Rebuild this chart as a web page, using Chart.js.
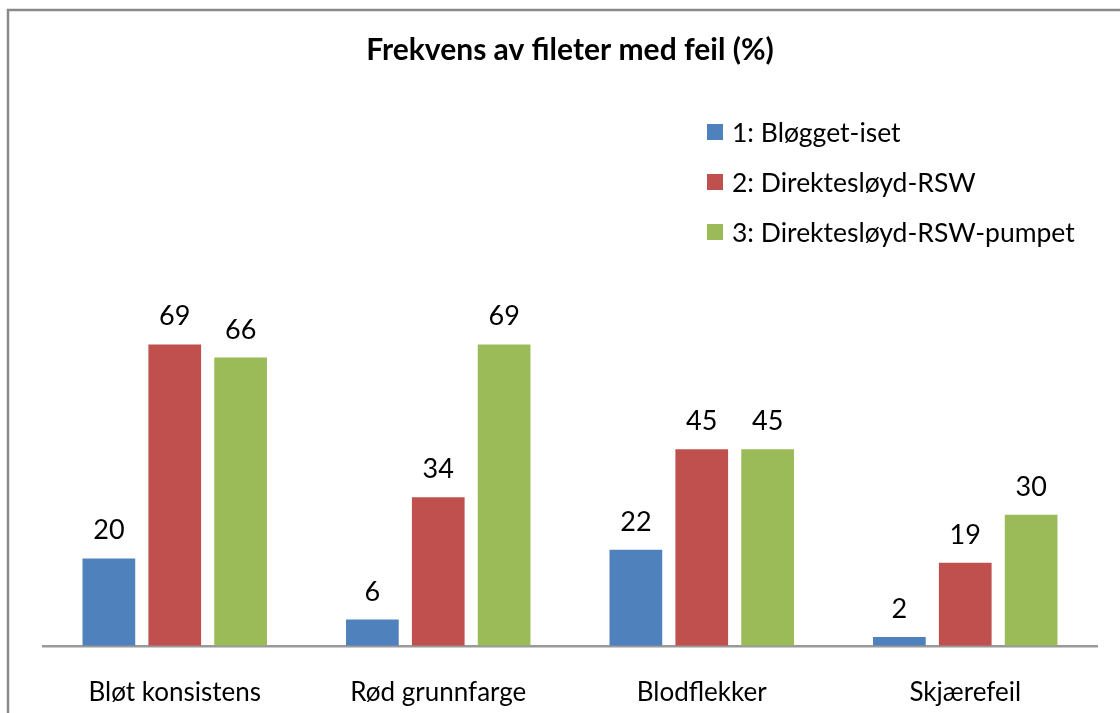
<!DOCTYPE html>
<html>
<head>
<meta charset="utf-8">
<title>Frekvens av fileter med feil</title>
<script src="https://cdn.jsdelivr.net/npm/chart.js@4/dist/chart.umd.min.js"></script>
<style>
  html, body { margin: 0; padding: 0; background: #fff; }
  #wrap { position: relative; width: 1120px; height: 713px; }
</style>
</head>
<body>
<div id="wrap"><canvas id="feilChart"></canvas></div>
<script>
'use strict';

// data
const categories = ["Bløt konsistens", "Rød grunnfarge", "Blodflekker", "Skjærefeil"];
const seriesNames = ["1: Bløgget-iset", "2: Direktesløyd-RSW", "3: Direktesløyd-RSW-pumpet"];
const blogget = [20, 6, 22, 2];
const direkte = [69, 34, 45, 19];
const pumpet = [66, 69, 45, 30];
const seriesColors = ["#4F81BD", "#C0504D", "#9BBB59"];

const FONT = "Lato, 'Open Sans', sans-serif";

/**
 * frame round the chart (only top and left edges are visible)
 */
const framePlugin = {
  id: "frame",
  beforeDraw(chart) {
    const ctx = chart.ctx;
    ctx.save();
    ctx.strokeStyle = "#8a8a8a";
    ctx.lineWidth = 2.5;
    ctx.beginPath();
    ctx.moveTo(8, chart.height);
    ctx.lineTo(8, 10);
    ctx.lineTo(chart.width, 10);
    ctx.stroke();
    ctx.restore();
  }
};

/**
 * value labels above the bars
 */
const valueLabels = {
  id: "valueLabels",
  afterDatasetsDraw(chart) {
    const ctx = chart.ctx;
    ctx.save();
    ctx.font = "27px " + FONT;
    ctx.fillStyle = "#000";
    ctx.textAlign = "center";
    ctx.textBaseline = "alphabetic";
    chart.data.datasets.forEach(function (ds, i) {
      chart.getDatasetMeta(i).data.forEach(function (bar, j) {
        ctx.fillText(ds.data[j], bar.x, bar.y - 19);
      });
    });
    ctx.restore();
  }
};

/**
 * vertical legend in the upper right corner
 */
const sideLegend = {
  id: "sideLegend",
  afterDraw(chart) {
    const ctx = chart.ctx;
    ctx.save();
    ctx.font = "26.5px " + FONT;
    ctx.textBaseline = "middle";
    chart.data.datasets.forEach(function (ds, i) {
      const y = 132 + i * 50;
      ctx.fillStyle = ds.backgroundColor;
      ctx.fillRect(707, y - 8, 16, 16);
      ctx.fillStyle = "#000";
      ctx.fillText(ds.label, 732, y + 1);
    });
    ctx.restore();
  }
};

const ctx = document.getElementById("feilChart").getContext("2d");
const feilChart = new Chart(ctx, {
  type: "bar",
  data: {
    labels: categories,
    datasets: [
      { label: seriesNames[0], data: blogget, backgroundColor: seriesColors[0] },
      { label: seriesNames[1], data: direkte, backgroundColor: seriesColors[1] },
      { label: seriesNames[2], data: pumpet, backgroundColor: seriesColors[2] }
    ]
  },
  options: {
    responsive: true,
    maintainAspectRatio: false,
    animation: false,
    categoryPercentage: 0.75,
    barPercentage: 0.8,
    layout: {
      padding: { left: 43, right: 23, top: 0, bottom: -26 }
    },
    scales: {
      x: {
        grid: { display: false, drawTicks: false },
        border: { display: true, color: "#999", width: 2.5 },
        ticks: {
          color: "#000",
          padding: 31,
          font: { family: FONT, size: 26 }
        }
      },
      y: {
        display: false,
        min: 0,
        max: 100
      }
    },
    plugins: {
      legend: { display: false },
      tooltip: { enabled: false },
      title: {
        display: true,
        text: "Frekvens av fileter med feil (%)",
        color: "#000",
        font: { family: FONT, size: 30, weight: "bold" },
        padding: { top: 32, bottom: 141 }
      }
    }
  },
  plugins: [framePlugin, valueLabels, sideLegend]
});
</script>
</body>
</html>
